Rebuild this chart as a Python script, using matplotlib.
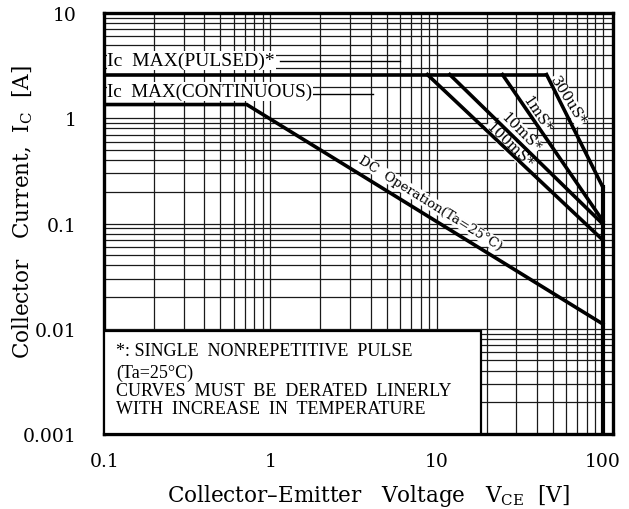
import matplotlib
matplotlib.use('Agg')
import matplotlib.pyplot as plt
from matplotlib.patches import Rectangle
from matplotlib.ticker import LogLocator, FixedLocator, NullFormatter

# ---- data ----
ic_pulsed = 2.6          # A
ic_cont = 1.35           # A
v_max = 100.0            # V
dc_v = [0.1, 0.72, 100.0]
dc_i = [1.35, 1.35, 0.0111]
pulse_labels = ['100mS*', '10mS*', '1mS*', '300uS*']
pulse_v_start = [8.8, 12.0, 24.9, 45.9]
pulse_i_end = [0.0697, 0.099, 0.106, 0.222]
x_ticks = [0.1, 1, 10, 100]
x_ticklabels = ['0.1', '1', '10', '100']
y_ticks = [0.001, 0.01, 0.1, 1, 10]
y_ticklabels = ['0.001', '0.01', '0.1', '1', '10']

plt.rcParams['font.family'] = ['DejaVu Serif']
plt.rcParams['mathtext.default'] = 'regular'

W, H = 629, 510
fig = plt.figure(figsize=(6.29, 5.10), dpi=100)
ax = fig.add_axes([104.3 / W, 1 - 435 / H, (613 - 104.3) / W, (435 - 14) / H])
ax.set_xscale('log')
ax.set_yscale('log')
ax.set_xlim(0.1, 115.2)
ax.set_ylim(0.001, 10)

ax.xaxis.set_major_locator(FixedLocator(x_ticks))
ax.yaxis.set_major_locator(FixedLocator(y_ticks))
ax.set_xticklabels(x_ticklabels)
ax.set_yticklabels(y_ticklabels)
ax.xaxis.set_minor_locator(LogLocator(base=10, subs=range(2, 10), numticks=20))
ax.yaxis.set_minor_locator(LogLocator(base=10, subs=range(2, 10), numticks=20))
ax.xaxis.set_minor_formatter(NullFormatter())
ax.yaxis.set_minor_formatter(NullFormatter())
ax.tick_params(which='both', length=0)
ax.tick_params(axis='x', pad=13, labelsize=13.5)
ax.tick_params(axis='y', pad=20, labelsize=13.5)
ax.set_axisbelow(True)
ax.grid(which='both', color='#1a1a1a', lw=0.9)

for s in ax.spines.values():
    s.set_linewidth(2.4)
    s.set_color('black')

lw = 2.6
# pulsed limit
ax.plot([dc_v[0], pulse_v_start[-1]], [ic_pulsed, ic_pulsed], color='black', lw=lw, zorder=5,
        solid_capstyle='butt')
# DC operation
ax.plot(dc_v, dc_i, color='black', lw=lw, zorder=5, solid_joinstyle='miter')
# pulse lines
for vs, ie in zip(pulse_v_start, pulse_i_end):
    ax.plot([vs, v_max], [ic_pulsed, ie], color='black', lw=lw, zorder=5)
# voltage limit
ax.plot([v_max, v_max], [max(pulse_i_end), 0.001], color='black', lw=lw + 0.4, zorder=5)

# labels along curves
lab_kw = dict(ha='center', va='center', rotation_mode='anchor', zorder=4,
              bbox=dict(facecolor='white', edgecolor='none', pad=0.2))
ax.text(9.12, 0.157, 'DC  Operation(Ta=25°C)', rotation=-32, fontsize=9.5, **lab_kw)
label_pos = [(27.2, 0.557, -44), (32.1, 0.74, -45), (40.1, 1.12, -56), (61.7, 1.49, -58)]
for (x, y, r), t in zip(label_pos, pulse_labels):
    ax.text(x, y, t, rotation=r, fontsize=10.5, **lab_kw)

# Ic max labels
ax.text(0.006, 0.888, 'Ic  MAX(PULSED)*', transform=ax.transAxes, fontsize=14,
        family='Liberation Serif', ha='left', va='center', zorder=4,
        bbox=dict(facecolor='white', edgecolor='none', pad=0.5))
ax.plot([0.346, 0.582], [0.886, 0.886], transform=ax.transAxes, color='black', lw=1.0, zorder=3)
ax.text(0.006, 0.8135, 'Ic  MAX(CONTINUOUS)', transform=ax.transAxes, fontsize=13.8,
        family='Liberation Serif', ha='left', va='center', zorder=4,
        bbox=dict(facecolor='white', edgecolor='none', pad=0.5))
ax.plot([0.411, 0.529], [0.808, 0.808], transform=ax.transAxes, color='black', lw=1.0, zorder=3)

# note box
ax.add_patch(Rectangle((0, 0), 0.7405, 0.2447, transform=ax.transAxes, facecolor='white',
                       edgecolor='black', lw=1.6, zorder=6))
notes = ['*: SINGLE  NONREPETITIVE  PULSE', '(Ta=25°C)',
         'CURVES  MUST  BE  DERATED  LINERLY', 'WITH  INCREASE  IN  TEMPERATURE']
for t, y in zip(notes, [0.1995, 0.1473, 0.1029, 0.0594]):
    ax.text(0.023, y, t, transform=ax.transAxes, fontsize=13, family='Liberation Serif',
            ha='left', va='center', zorder=7)

fig.text(368 / W, 1 - 496 / H, 'Collector–Emitter   Voltage   V$_{\\mathregular{CE}}$  [V]',
         fontsize=15.5, ha='center', va='center')
fig.text(23 / W, 1 - 212 / H, 'Collector   Current,  I$_{\\mathregular{C}}$  [A]',
         fontsize=15.5, ha='center', va='center', rotation=90)

fig.savefig('out.png', dpi=100)
